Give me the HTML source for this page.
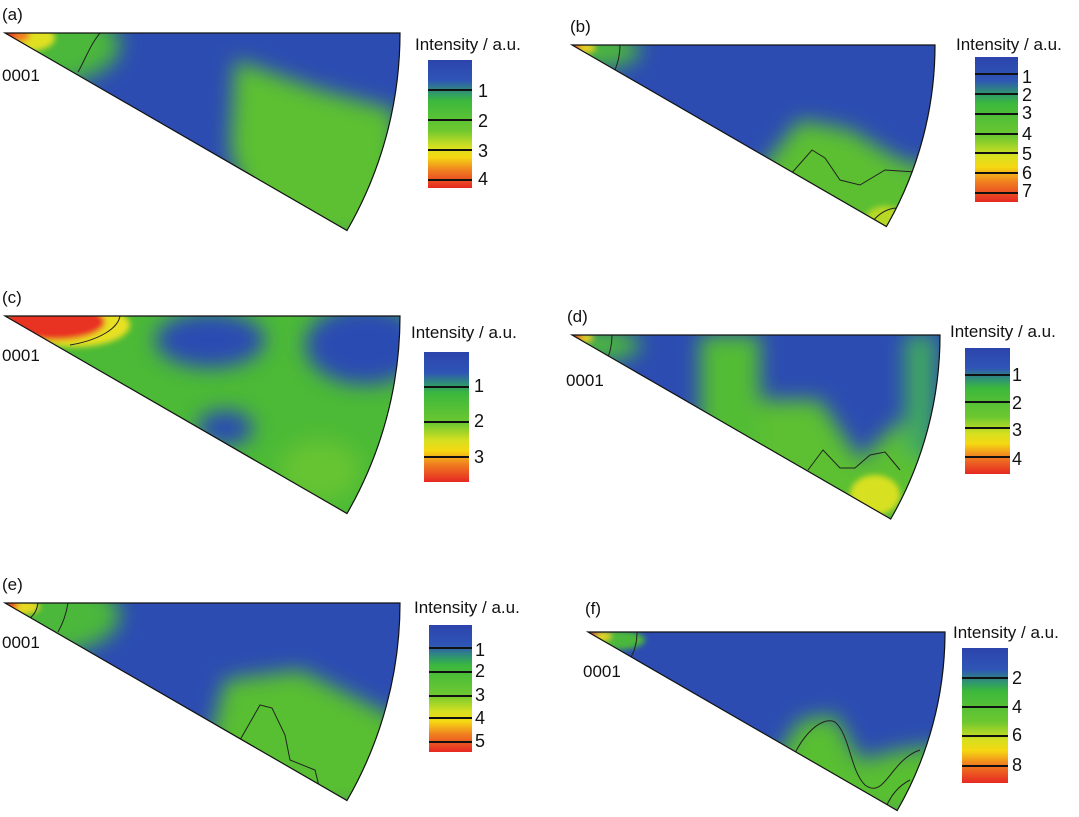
<!DOCTYPE html>
<html><head><meta charset="utf-8"><style>
html,body{margin:0;padding:0;background:#fff;}
svg{display:block;font-family:"Liberation Sans",Arial,sans-serif;}
</style></head><body>
<svg width="1079" height="817" viewBox="0 0 1079 817" xmlns="http://www.w3.org/2000/svg">
<defs>
<linearGradient id="cb" x1="0" y1="0" x2="0" y2="1">
<stop offset="0" stop-color="#2c44ac"/><stop offset="0.16" stop-color="#2f55b6"/>
<stop offset="0.26" stop-color="#2f9a6a"/><stop offset="0.32" stop-color="#3cb83c"/>
<stop offset="0.55" stop-color="#6ec830"/><stop offset="0.68" stop-color="#d6e020"/>
<stop offset="0.76" stop-color="#f5d812"/><stop offset="0.86" stop-color="#f08020"/>
<stop offset="1" stop-color="#e62822"/></linearGradient>
<filter id="bl" x="-20%" y="-20%" width="140%" height="140%"><feGaussianBlur stdDeviation="10"/></filter>
<filter id="bs" x="-50%" y="-50%" width="200%" height="200%"><feGaussianBlur stdDeviation="3"/></filter>
<clipPath id="ca"><path d="M5,33 L400,33 A395,395 0 0,1 347,230.5 Z"/></clipPath>
<clipPath id="cbp"><path d="M572,45 L935,45 A363,363 0 0,1 886.4,226.5 Z"/></clipPath>
<clipPath id="cc"><path d="M5,316 L400,316 A395,395 0 0,1 347,513.5 Z"/></clipPath>
<clipPath id="cd"><path d="M572,335 L940,335 A368,368 0 0,1 890.7,519 Z"/></clipPath>
<clipPath id="ce"><path d="M5,603 L400,603 A395,395 0 0,1 347,800.5 Z"/></clipPath>
<clipPath id="cf"><path d="M588,632 L945,632 A357,357 0 0,1 897.2,810.5 Z"/></clipPath>
</defs>

<!-- (a) -->
<g clip-path="url(#ca)">
<rect x="0" y="30" width="410" height="210" fill="#2c4cb2"/>
<g filter="url(#bl)">
<ellipse cx="40" cy="45" rx="80" ry="40" fill="#4cb83a"/>
<path d="M235,60 L320,90 L395,110 L400,240 L260,240 L230,150 Z" fill="#5cc030"/>
</g>
<g filter="url(#bs)">
<ellipse cx="25" cy="38" rx="30" ry="14" fill="#e0e020"/>
<ellipse cx="14" cy="35" rx="16" ry="8" fill="#f08020"/>
<ellipse cx="8" cy="34" rx="8" ry="5" fill="#e83020"/>
</g>
<path d="M100,33 C90,45 85,60 78,72" fill="none" stroke="#222" stroke-width="1"/>
</g>
<path d="M5,33 L400,33 A395,395 0 0,1 347,230.5 Z" fill="none" stroke="#111" stroke-width="1.2"/>

<!-- (b) -->
<g clip-path="url(#cbp)">
<rect x="570" y="40" width="370" height="200" fill="#2c4cb2"/>
<g filter="url(#bl)">
<path d="M760,170 L800,120 L850,130 L900,160 L940,170 L940,240 L760,240 Z" fill="#5cbf32"/>
<ellipse cx="600" cy="50" rx="40" ry="18" fill="#4cb83a"/>
</g>
<g filter="url(#bs)"><ellipse cx="885" cy="220" rx="20" ry="14" fill="#b8d828"/>
<ellipse cx="582" cy="48" rx="14" ry="6" fill="#e8d020"/><ellipse cx="574" cy="46" rx="7" ry="4" fill="#e83020"/></g>
<path d="M790,175 L812,150 L825,158 L840,180 L860,185 L885,170 L915,172" fill="none" stroke="#222" stroke-width="1"/>
<path d="M870,225 C880,210 895,205 905,210" fill="none" stroke="#222" stroke-width="1"/>
<path d="M620,45 C620,55 618,62 615,70" fill="none" stroke="#222" stroke-width="1"/>
</g>
<path d="M572,45 L935,45 A363,363 0 0,1 886.4,226.5 Z" fill="none" stroke="#111" stroke-width="1.2"/>

<!-- (c) -->
<g clip-path="url(#cc)">
<rect x="0" y="310" width="410" height="210" fill="#4cba36"/>
<g filter="url(#bl)">
<ellipse cx="210" cy="340" rx="55" ry="28" fill="#2c4cb2"/>
<ellipse cx="365" cy="345" rx="60" ry="40" fill="#2c4cb2"/>
<ellipse cx="225" cy="428" rx="28" ry="18" fill="#2c4cb2"/>
<ellipse cx="320" cy="470" rx="40" ry="30" fill="#66c430"/>
</g>
<g filter="url(#bs)">
<ellipse cx="75" cy="325" rx="55" ry="22" fill="#e8e020"/>
<ellipse cx="55" cy="322" rx="50" ry="18" fill="#e83020"/>
</g>
<path d="M120,316 C118,328 100,340 70,345" fill="none" stroke="#222" stroke-width="1"/>
</g>
<path d="M5,316 L400,316 A395,395 0 0,1 347,513.5 Z" fill="none" stroke="#111" stroke-width="1.2"/>

<!-- (d) -->
<g clip-path="url(#cd)">
<rect x="570" y="330" width="375" height="195" fill="#2c4cb2"/>
<g filter="url(#bl)">
<rect x="700" y="335" width="60" height="200" fill="#52bc34"/>
<path d="M760,400 L820,400 L860,460 L900,420 L940,470 L940,530 L760,530 Z" fill="#5cc030"/>
<rect x="905" y="335" width="30" height="120" fill="#40a860"/>
<ellipse cx="600" cy="345" rx="40" ry="16" fill="#4cb83a"/>
</g>
<g filter="url(#bs)"><ellipse cx="875" cy="495" rx="25" ry="20" fill="#d8e020"/>
<ellipse cx="582" cy="338" rx="12" ry="5" fill="#e8d020"/><ellipse cx="575" cy="337" rx="7" ry="4" fill="#e83020"/></g>
<path d="M808,470 L823,450 L840,468 L855,468 L870,455 L885,452 L900,470" fill="none" stroke="#222" stroke-width="1"/>
<path d="M612,335 C612,345 610,352 607,360" fill="none" stroke="#222" stroke-width="1"/>
</g>
<path d="M572,335 L940,335 A368,368 0 0,1 890.7,519 Z" fill="none" stroke="#111" stroke-width="1.2"/>

<!-- (e) -->
<g clip-path="url(#ce)">
<rect x="0" y="598" width="410" height="210" fill="#2c4cb2"/>
<g filter="url(#bl)">
<ellipse cx="40" cy="615" rx="80" ry="40" fill="#4cb83a"/>
<path d="M225,680 L300,670 L360,700 L400,720 L400,810 L230,810 L210,740 Z" fill="#58be32"/>
</g>
<g filter="url(#bs)">
<ellipse cx="20" cy="607" rx="20" ry="8" fill="#e8d820"/><ellipse cx="9" cy="605" rx="9" ry="5" fill="#e83020"/>
</g>
<path d="M240,740 L260,705 L272,708 L285,735 L290,760 L315,770 L320,790" fill="none" stroke="#222" stroke-width="1"/>
<path d="M68,603 C66,615 62,625 58,632" fill="none" stroke="#222" stroke-width="1"/>
<path d="M38,603 C37,610 34,615 30,618" fill="none" stroke="#222" stroke-width="1"/>
</g>
<path d="M5,603 L400,603 A395,395 0 0,1 347,800.5 Z" fill="none" stroke="#111" stroke-width="1.2"/>

<!-- (f) -->
<g clip-path="url(#cf)">
<rect x="585" y="628" width="365" height="190" fill="#2c4cb2"/>
<g filter="url(#bl)">
<path d="M775,760 L800,720 L835,715 L860,760 L900,750 L945,745 L945,820 L775,820 Z" fill="#58be32"/>
</g>
<g filter="url(#bs)">
<ellipse cx="615" cy="640" rx="30" ry="10" fill="#4cb83a"/>
<ellipse cx="600" cy="636" rx="11" ry="5" fill="#e8d820"/><ellipse cx="592" cy="634" rx="6" ry="3" fill="#e83020"/>
</g>
<path d="M785,780 C795,740 820,715 835,722 C850,735 850,770 865,785 C885,800 890,760 920,750" fill="none" stroke="#222" stroke-width="1"/>
<path d="M637,632 C637,645 633,655 628,662" fill="none" stroke="#222" stroke-width="1"/>
<path d="M885,810 C890,795 900,785 910,780" fill="none" stroke="#222" stroke-width="1"/>
</g>
<path d="M588,632 L945,632 A357,357 0 0,1 897.2,810.5 Z" fill="none" stroke="#111" stroke-width="1.2"/>

<!-- labels -->
<g font-size="17" fill="#111">
<text x="2" y="20">(a)</text><text x="570" y="32">(b)</text>
<text x="2" y="303">(c)</text><text x="567" y="322">(d)</text>
<text x="2" y="590">(e)</text><text x="585" y="614">(f)</text>
<text x="2" y="81">0001</text><text x="2" y="361">0001</text>
<text x="566" y="386">0001</text><text x="2" y="648">0001</text>
<text x="583" y="677">0001</text>
<text x="415" y="50">Intensity / a.u.</text>
<text x="956" y="50">Intensity / a.u.</text>
<text x="411" y="338">Intensity / a.u.</text>
<text x="950" y="337">Intensity / a.u.</text>
<text x="414" y="613">Intensity / a.u.</text>
<text x="953" y="638">Intensity / a.u.</text>
</g>

<!-- colorbars -->
<rect x="428" y="60" width="44" height="128" fill="url(#cb)"/>
<g stroke="#111" stroke-width="2"><line x1="428" x2="472" y1="90" y2="90"/><line x1="428" x2="472" y1="120" y2="120"/><line x1="428" x2="472" y1="150" y2="150"/><line x1="428" x2="472" y1="180" y2="180"/></g>
<g font-size="18" fill="#111"><text x="478" y="97">1</text><text x="478" y="127">2</text><text x="478" y="157">3</text><text x="478" y="185">4</text></g>

<rect x="975" y="57" width="43" height="145" fill="url(#cb)"/>
<g stroke="#111" stroke-width="2"><line x1="975" x2="1018" y1="74" y2="74"/><line x1="975" x2="1018" y1="94" y2="94"/><line x1="975" x2="1018" y1="114" y2="114"/><line x1="975" x2="1018" y1="134" y2="134"/><line x1="975" x2="1018" y1="153" y2="153"/><line x1="975" x2="1018" y1="173" y2="173"/><line x1="975" x2="1018" y1="193" y2="193"/></g>
<g font-size="18" fill="#111"><text x="1022" y="83">1</text><text x="1022" y="101">2</text><text x="1022" y="119">3</text><text x="1022" y="140">4</text><text x="1022" y="160">5</text><text x="1022" y="179">6</text><text x="1022" y="197">7</text></g>

<rect x="424" y="352" width="45" height="130" fill="url(#cb)"/>
<g stroke="#111" stroke-width="2"><line x1="424" x2="469" y1="387" y2="387"/><line x1="424" x2="469" y1="422" y2="422"/><line x1="424" x2="469" y1="457" y2="457"/></g>
<g font-size="18" fill="#111"><text x="474" y="392">1</text><text x="474" y="427">2</text><text x="474" y="463">3</text></g>

<rect x="965" y="348" width="45" height="126" fill="url(#cb)"/>
<g stroke="#111" stroke-width="2"><line x1="965" x2="1010" y1="375" y2="375"/><line x1="965" x2="1010" y1="402" y2="402"/><line x1="965" x2="1010" y1="428" y2="428"/><line x1="965" x2="1010" y1="457" y2="457"/></g>
<g font-size="18" fill="#111"><text x="1012" y="381">1</text><text x="1012" y="409">2</text><text x="1012" y="436">3</text><text x="1012" y="465">4</text></g>

<rect x="429" y="625" width="43" height="127" fill="url(#cb)"/>
<g stroke="#111" stroke-width="2"><line x1="429" x2="472" y1="648" y2="648"/><line x1="429" x2="472" y1="672" y2="672"/><line x1="429" x2="472" y1="696" y2="696"/><line x1="429" x2="472" y1="718" y2="718"/><line x1="429" x2="472" y1="742" y2="742"/></g>
<g font-size="18" fill="#111"><text x="475" y="656">1</text><text x="475" y="677">2</text><text x="475" y="701">3</text><text x="475" y="724">4</text><text x="475" y="747">5</text></g>

<rect x="962" y="648" width="46" height="135" fill="url(#cb)"/>
<g stroke="#111" stroke-width="2"><line x1="962" x2="1008" y1="678" y2="678"/><line x1="962" x2="1008" y1="707" y2="707"/><line x1="962" x2="1008" y1="736" y2="736"/><line x1="962" x2="1008" y1="766" y2="766"/></g>
<g font-size="18" fill="#111"><text x="1012" y="684">2</text><text x="1012" y="713">4</text><text x="1012" y="741">6</text><text x="1012" y="771">8</text></g>
</svg>
</body></html>
